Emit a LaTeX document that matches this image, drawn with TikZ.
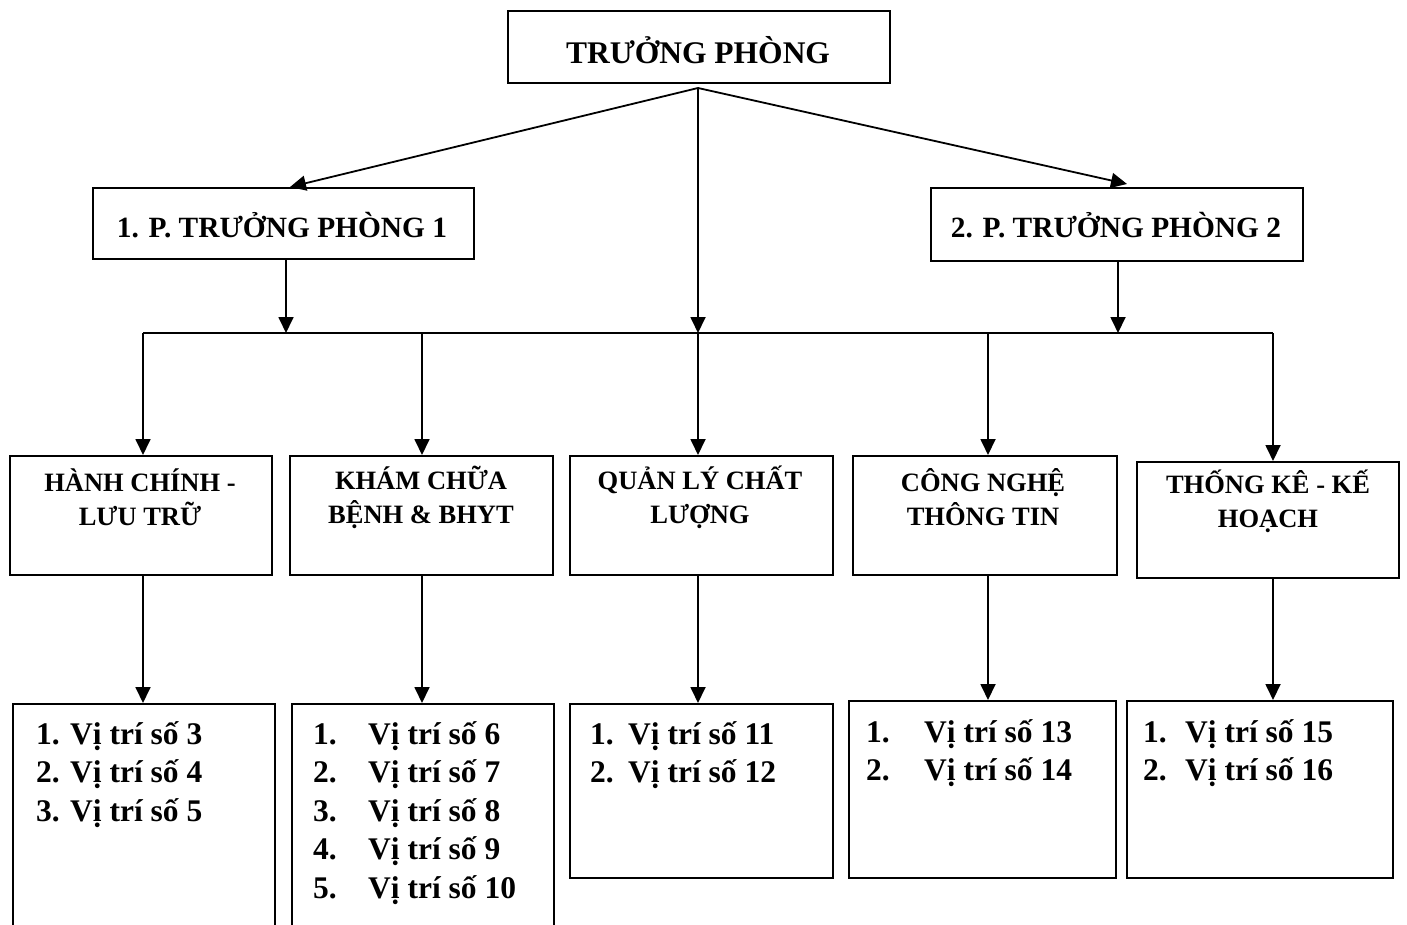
\documentclass[tikz,border=0pt]{standalone}
\usepackage{fontspec}
\setmainfont{Liberation Serif}
\usetikzlibrary{arrows.meta}
\begin{document}
\begin{tikzpicture}[x=1pt,y=-1pt,
  box/.style={draw,line width=1.8pt,inner sep=0pt,anchor=north west},
  arr/.style={line width=1.8pt,-{Triangle[length=16pt,width=15pt]}},
  ln/.style={line width=1.8pt},
  toptxt/.style={font=\bfseries\fontsize{31.5}{34}\selectfont},
  ptxt/.style={font=\bfseries\fontsize{29.4}{32}\selectfont},
  rowtxt/.style={font=\bfseries\fontsize{26.5}{34}\selectfont,align=center},
  listtxt/.style={font=\bfseries\fontsize{31.5}{38.5}\selectfont,anchor=base west,inner sep=0pt}]
\clip (0,0) rectangle (1407,925);
\useasboundingbox (0,0) rectangle (1407,925);
% boxes
\node[box,minimum width=382pt,minimum height=72pt] (top) at (507,10) {};
\node[box,minimum width=381pt,minimum height=71pt] (p1) at (92,187) {};
\node[box,minimum width=372pt,minimum height=73pt] (p2) at (930,187) {};
\node[box,minimum width=262pt,minimum height=119pt] (r1) at (9,455) {};
\node[box,minimum width=263pt,minimum height=119pt] (r2) at (289,455) {};
\node[box,minimum width=263pt,minimum height=119pt] (r3) at (569,455) {};
\node[box,minimum width=264pt,minimum height=119pt] (r4) at (852,455) {};
\node[box,minimum width=262pt,minimum height=116pt] (r5) at (1136,461) {};
\node[box,minimum width=262pt,minimum height=240pt] (b1) at (12,703) {};
\node[box,minimum width=262pt,minimum height=240pt] (b2) at (291,703) {};
\node[box,minimum width=263pt,minimum height=174pt] (b3) at (569,703) {};
\node[box,minimum width=267pt,minimum height=177pt] (b4) at (848,700) {};
\node[box,minimum width=266pt,minimum height=177pt] (b5) at (1126,700) {};
% texts
\node[toptxt] (ttop) at (698,50) {TRƯỞNG PHÒNG};
\node[ptxt] (tp1) at (282,225) {1. P. TRƯỞNG PHÒNG 1};
\node[ptxt] (tp2) at (1116,225) {2. P. TRƯỞNG PHÒNG 2};
\node[rowtxt] (tr1) at (140,497) {HÀNH CHÍNH -\\LƯU TRỮ};
\node[rowtxt] (tr2) at (421,497) {KHÁM CHỮA\\BỆNH \& BHYT};
\node[rowtxt] (tr3) at (700,497) {QUẢN LÝ CHẤT\\LƯỢNG};
\node[rowtxt] (tr4) at (983,497) {CÔNG NGHỆ\\THÔNG TIN};
\node[rowtxt] (tr5) at (1268,501) {THỐNG KÊ - KẾ\\HOẠCH};
\node[listtxt] (l1) at (36,744) {\begin{tabular}[t]{@{}l@{}}\makebox[34pt][l]{1.}Vị trí số 3\\\makebox[34pt][l]{2.}Vị trí số 4\\\makebox[34pt][l]{3.}Vị trí số 5\end{tabular}};
\node[listtxt] (l2) at (313,744) {\begin{tabular}[t]{@{}l@{}}\makebox[55pt][l]{1.}Vị trí số 6\\\makebox[55pt][l]{2.}Vị trí số 7\\\makebox[55pt][l]{3.}Vị trí số 8\\\makebox[55pt][l]{4.}Vị trí số 9\\\makebox[55pt][l]{5.}Vị trí số 10\end{tabular}};
\node[listtxt] (l3) at (590,744) {\begin{tabular}[t]{@{}l@{}}\makebox[38pt][l]{1.}Vị trí số 11\\\makebox[38pt][l]{2.}Vị trí số 12\end{tabular}};
\node[listtxt] (l4) at (866,742) {\begin{tabular}[t]{@{}l@{}}\makebox[58pt][l]{1.}Vị trí số 13\\\makebox[58pt][l]{2.}Vị trí số 14\end{tabular}};
\node[listtxt] (l5) at (1143,742) {\begin{tabular}[t]{@{}l@{}}\makebox[42pt][l]{1.}Vị trí số 15\\\makebox[42pt][l]{2.}Vị trí số 16\end{tabular}};
% connector points
\coordinate (apex) at (698,88);
\coordinate (j0) at (698,333);
\coordinate (j1) at (286,333);
\coordinate (j2) at (1118,333);
\coordinate (bl) at (143,333);
\coordinate (br) at (1273,333);
\coordinate (t1) at (290,187);
\coordinate (t2) at (1127,184);
% connectors
\draw[arr] (apex) -- (t1);
\draw[arr] (apex) -- (t2);
\draw[arr] (apex) -- (j0);
\draw[arr] (p1.south -| j1) -- (j1);
\draw[arr] (p2.south -| j2) -- (j2);
\draw[ln] (bl) -- (br);
\draw[arr] (bl) -- (bl |- r1.north);
\draw[arr] (422,333) -- (422,455);
\draw[arr] (j0) -- (r3.north -| j0);
\draw[arr] (988,333) -- (988,455);
\draw[arr] (br) -- (br |- r5.north);
\draw[arr] (r1.south -| bl) -- (bl |- b1.north);
\draw[arr] (r2.south -| 422,0) -- (422,703);
\draw[arr] (r3.south -| j0) -- (j0 |- b3.north);
\draw[arr] (r4.south -| 988,0) -- (988,700);
\draw[arr] (r5.south -| br) -- (br |- b5.north);
\end{tikzpicture}
\end{document}
